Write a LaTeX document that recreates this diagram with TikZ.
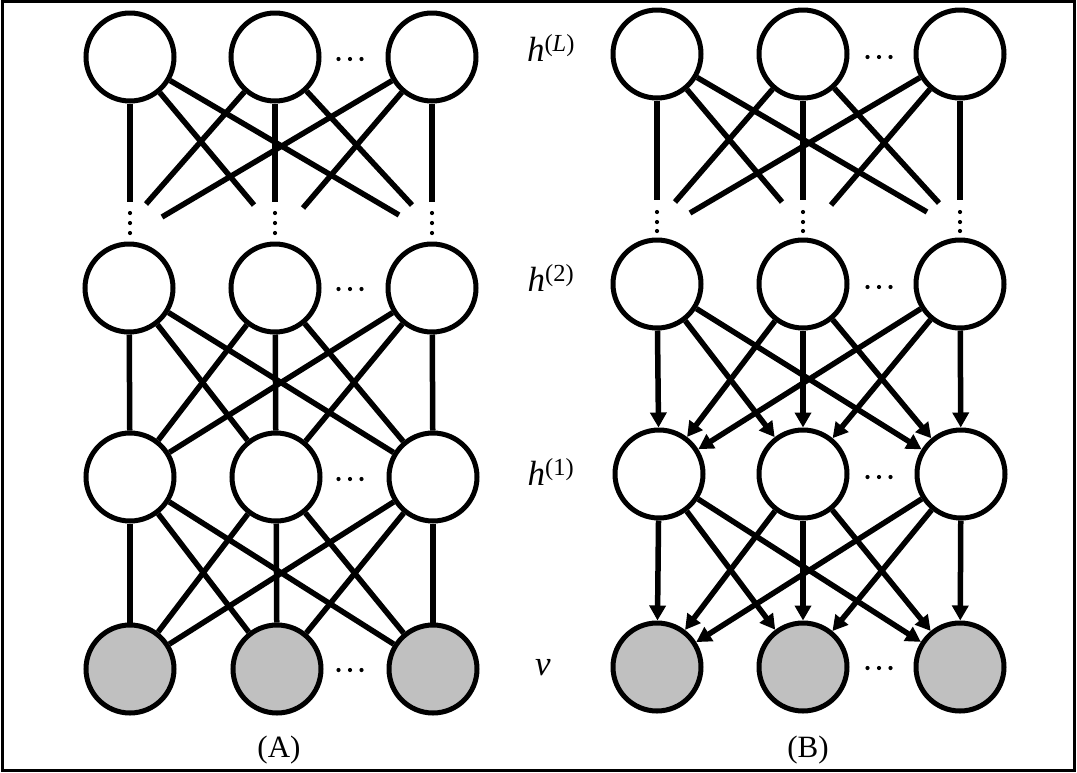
\documentclass[tikz,border=0pt]{standalone}
\usepackage{fontspec}
\setmainfont{Liberation Serif}
\usetikzlibrary{arrows.meta}
\definecolor{visgray}{RGB}{192,192,192}
\begin{document}
\begin{tikzpicture}[x=1pt,y=-1pt,
  unit/.style={circle,draw=black,line width=5pt,minimum size=88pt,inner sep=0pt,fill=white},
  visible/.style={unit,fill=visgray},
  conn/.style={line width=5.5pt},
  arr/.style={conn,-{Triangle[length=15pt,width=16pt]}},
  lab/.style={font=\fontsize{35}{40}\selectfont,anchor=base,inner sep=0pt},
  capt/.style={font=\fontsize{31}{36}\selectfont,anchor=base,inner sep=0pt}]
\useasboundingbox (0,0) rectangle (1077,772);
\draw[line width=3pt] (2,1.6) rectangle (1074.2,770.2);

% ---------- (A) ----------
\node[unit] (AT1) at (130,57) {};
\node[unit] (AT2) at (275,57) {};
\node[unit] (AT3) at (432,57) {};
\node[unit] (A21) at (129,288) {};
\node[unit] (A22) at (275,288) {};
\node[unit] (A23) at (432,288) {};
\node[unit] (A11) at (130,477) {};
\node[unit] (A12) at (276,477) {};
\node[unit] (A13) at (433,477) {};
\node[visible] (AV1) at (130,669) {};
\node[visible] (AV2) at (277,669) {};
\node[visible] (AV3) at (433,669) {};

\coordinate (ae11) at (130,202);
\coordinate (ae12) at (254,205);
\coordinate (ae13) at (399,215);
\coordinate (ae21) at (146,204);
\coordinate (ae22) at (275,202);
\coordinate (ae23) at (412,205);
\coordinate (ae31) at (162,217);
\coordinate (ae32) at (303,208);
\coordinate (ae33) at (432,202);
\foreach \i in {1,2,3}{\foreach \j in {1,2,3}{
  \draw[conn] (AT\i) -- (ae\i\j);
  \draw[conn] (A2\i) -- (A1\j);
  \draw[conn] (A1\i) -- (AV\j);
}}

% ---------- (B) ----------
\node[unit] (BT1) at (657,54) {};
\node[unit] (BT2) at (803,54) {};
\node[unit] (BT3) at (960,54) {};
\node[unit] (B21) at (657,284) {};
\node[unit] (B22) at (803,284) {};
\node[unit] (B23) at (960,284) {};
\node[unit] (B11) at (659,474) {};
\node[unit] (B12) at (803,474) {};
\node[unit] (B13) at (961,474) {};
\node[visible] (BV1) at (657,667) {};
\node[visible] (BV2) at (803,667) {};
\node[visible] (BV3) at (960,667) {};

\coordinate (be11) at (657,200);
\coordinate (be12) at (782,202);
\coordinate (be13) at (927,212);
\coordinate (be21) at (675,202);
\coordinate (be22) at (803,200);
\coordinate (be23) at (939,203);
\coordinate (be31) at (690,213);
\coordinate (be32) at (831,205);
\coordinate (be33) at (960,200);
\foreach \i in {1,2,3}{\foreach \j in {1,2,3}{
  \draw[conn] (BT\i) -- (be\i\j);
  \draw[arr] (B2\i) -- (B1\j);
  \draw[arr] (B1\i) -- (BV\j);
}}

% ---------- dots ----------
\foreach \x in {130,275,432}{\foreach \y in {213,223,233}{\fill (\x,\y) circle (2.1pt);}}
\foreach \x in {657,803,960}{\foreach \y in {212,222,231}{\fill (\x,\y) circle (2.1pt);}}
\foreach \y in {59,289,479,670}{\foreach \x in {338.5,350,361.5}{\fill (\x,\y) circle (2.1pt);}}
\foreach \y in {57,287,477,668}{\foreach \x in {867.5,879,890.5}{\fill (\x,\y) circle (2.1pt);}}

% ---------- labels ----------
\node[lab] (lL) at (551,61) {\textit{h}\textsuperscript{(\textit{L})}};
\node[lab] (l2) at (551,291) {\textit{h}\textsuperscript{(2)}};
\node[lab] (l1) at (551,485) {\textit{h}\textsuperscript{(1)}};
\node[lab] (lv) at (543,675) {\textit{v}};
\node[capt] (cA) at (279,757) {(A)};
\node[capt] (cB) at (808,757) {(B)};
\end{tikzpicture}
\end{document}
